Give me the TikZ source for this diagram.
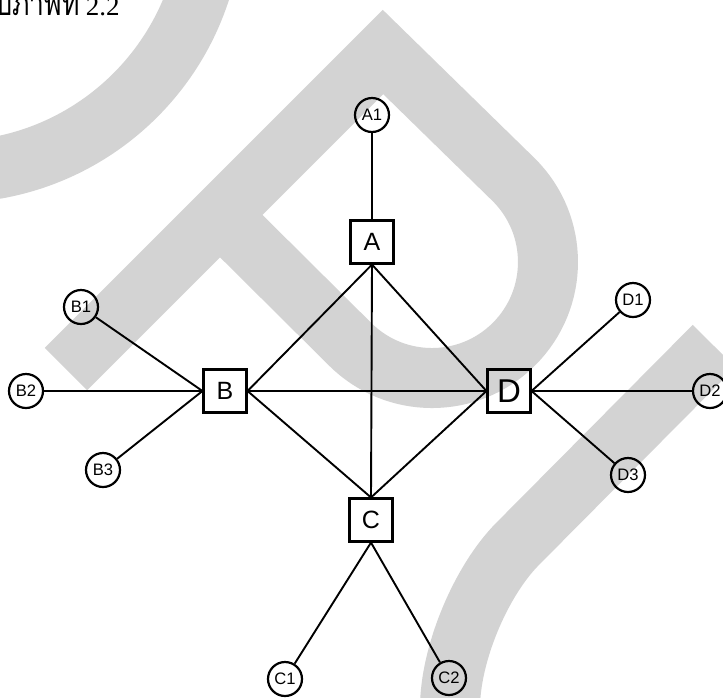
\documentclass[tikz,border=0pt]{standalone}
\usepackage{fontspec}
\setmainfont{Liberation Sans}
\newfontfamily\thaifont[Script=Thai,FakeStretch=0.78]{Loma}
\newfontfamily\numfont{Liberation Serif}
\definecolor{wmgray}{RGB}{211,211,211}

\begin{document}
\begin{tikzpicture}[x=0.5pt,y=-0.5pt,
  hub/.style={draw,line width=1.05pt,minimum size=21.5pt,inner sep=0pt,font=\fontsize{12.5}{12.5}\selectfont},
  leaf/.style={draw,circle,line width=1.1pt,minimum size=17pt,inner sep=0pt,font=\fontsize{8.3}{8.3}\selectfont},
  wm/.style={wmgray,line width=30pt},
  link/.style={line width=0.95pt}]
  \useasboundingbox (0,0) rectangle (723,697); \clip (0,0) rectangle (723,697);
  \draw[wm,line width=31pt] (-50,-90) circle[radius=262];
  \draw[wm,line join=miter] (66,369) -- (383,52) -- (514,180) arc[start angle=-45,end angle=135,radius=116] -- (220,215);
  \draw[wm,rounded corners=48pt] (714,346) -- (450,612) -- (450,720);
  \node[anchor=base east,inner sep=0pt] (cap) at (120,15.5) {\fontsize{17}{17}\selectfont\thaifont รูปภาพที่\hspace{3pt}\numfont\fontsize{13.5}{13.5}\selectfont 2.2};
  \node[leaf] (a1) at (372,115) {A1}; \node[hub] (a) at (372,242) {A};
  \node[hub] (b) at (225,391) {B}; \node[hub] (c) at (371,520) {C};
  \node[hub,font=\fontsize{16.5}{16.5}\selectfont] (d) at (509,391) {D};
  \node[leaf] (b1) at (81,307) {B1}; \node[leaf] (b2) at (26,391) {B2}; \node[leaf] (b3) at (103,470) {B3};
  \node[leaf] (d1) at (633,300) {D1}; \node[leaf] (d2) at (710,391) {D2}; \node[leaf] (d3) at (628,475) {D3};
  \node[leaf] (c1) at (285,679) {C1}; \node[leaf] (c2) at (449,678) {C2};
  \draw[link] (a1) -- (a.north);
  \draw[link] (a.south) -- (b.east); \draw[link] (a.south) -- (c.north); \draw[link] (a.south) -- (d.west);
  \draw[link] (b.east) -- (d.west); \draw[link] (b.east) -- (c.north); \draw[link] (c.north) -- (d.west);
  \foreach \n in {b1,b2,b3} \draw[link] (\n) -- (b.west);
  \foreach \n in {d1,d2,d3} \draw[link] (\n) -- (d.east);
  \foreach \n in {c1,c2} \draw[link] (\n) -- (c.south);
\end{tikzpicture}
\end{document}
